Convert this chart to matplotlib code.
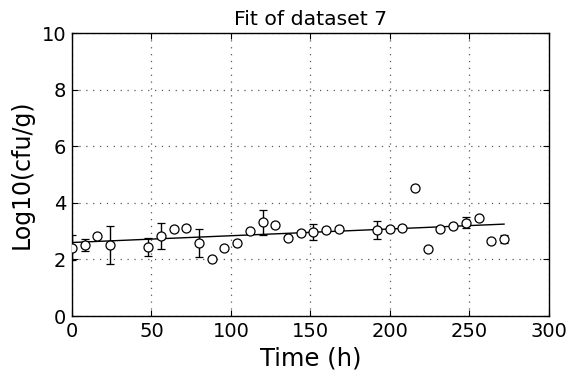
import matplotlib
matplotlib.use("Agg")
import matplotlib.pyplot as plt
import numpy as np

time_h = [0, 8, 16, 24, 48, 56, 64, 72, 80, 88, 96, 104, 112, 120, 128, 136, 144,
          152, 160, 168, 192, 200, 208, 216, 224, 232, 240, 248, 256, 264, 272]
log_cfu = [2.42, 2.51, 2.83, 2.51, 2.45, 2.83, 3.06, 3.13, 2.59, 2.00, 2.39, 2.57,
           3.00, 3.31, 3.22, 2.75, 2.94, 2.98, 3.04, 3.06, 3.04, 3.07, 3.13, 4.54,
           2.38, 3.06, 3.18, 3.30, 3.45, 2.65, 2.72]
log_err = [0.45, 0.20, 0.0, 0.67, 0.31, 0.47, 0.0, 0.0, 0.50, 0.0, 0.0, 0.0,
           0.0, 0.45, 0.05, 0.0, 0.08, 0.28, 0.0, 0.0, 0.31, 0.0, 0.0, 0.0,
           0.0, 0.0, 0.0, 0.19, 0.0, 0.0, 0.13]
fit_x = [0, 272]
fit_y = [2.60, 3.25]

x_ticks = [0, 50, 100, 150, 200, 250, 300]
y_ticks = [0, 2, 4, 6, 8, 10]

fig = plt.figure(figsize=(5.71, 3.78), dpi=100)
ax = fig.add_axes([0.1261, 0.164, 0.8345, 0.748])

ax.plot(fit_x, fit_y, color='black', linewidth=1.0, zorder=2)
ax.errorbar(time_h, log_cfu, yerr=log_err, fmt='o', color='black', ecolor='black',
            elinewidth=1.0, capsize=3, capthick=1.0, markersize=6.5,
            markerfacecolor='white', markeredgecolor='black', markeredgewidth=0.9,
            zorder=3, clip_on=True)

ax.set_xlim(0, 300)
ax.set_ylim(0, 10)
ax.set_xticks(x_ticks)
ax.set_yticks(y_ticks)
ax.tick_params(direction='in', top=True, right=True, length=4, width=0.8,
               labelsize=14, pad=4)
ax.grid(True, linestyle=(0, (1, 4.5)), color='0.35', linewidth=0.9)
for s in ax.spines.values():
    s.set_linewidth(1.0)

ax.set_title('Fit of dataset 7', fontsize=14.7, pad=6)
ax.set_xlabel('Time (h)', fontsize=17.5, labelpad=4)
ax.set_ylabel('Log10(cfu/g)', fontsize=17, labelpad=6)

fig.savefig('out.png', dpi=100)
